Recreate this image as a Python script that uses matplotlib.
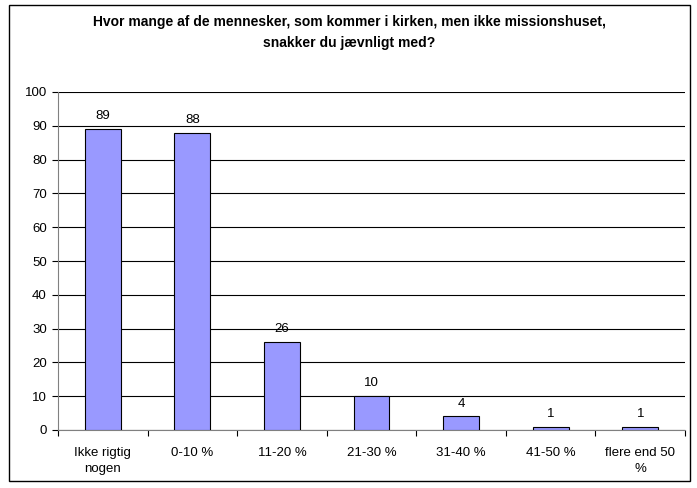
import matplotlib
matplotlib.use("Agg")
import matplotlib.pyplot as plt
from matplotlib.patches import Rectangle

categories = ["Ikke rigtig\nnogen", "0-10 %", "11-20 %", "21-30 %", "31-40 %", "41-50 %", "flere end 50\n%"]
values = [89, 88, 26, 10, 4, 1, 1]
yticks = [0, 10, 20, 30, 40, 50, 60, 70, 80, 90, 100]
title = "Hvor mange af de mennesker, som kommer i kirken, men ikke missionshuset,\nsnakker du jævnligt med?"

plt.rcParams['font.family'] = ['Liberation Sans', 'DejaVu Sans']

W, H = 697, 488
fig = plt.figure(figsize=(W/100, H/100), dpi=100)
fig.patch.set_facecolor('white')

# outer border
fig.patches.append(Rectangle((9/W, 1 - 481/H), (690-9)/W, (481-5)/H, transform=fig.transFigure,
                             fill=False, edgecolor='black', linewidth=1.0))

left, right, top, bottom = 58, 685, 92, 430
ax = fig.add_axes([left/W, 1 - bottom/H, (right-left)/W, (bottom-top)/H])

x = list(range(len(categories)))
ax.bar(x, values, width=0.4, color='#9999ff', edgecolor='black', linewidth=0.8, zorder=3)
for xi, v in zip(x, values):
    ax.text(xi, v + 2, str(v), ha='center', va='bottom', fontsize=9.5)

ax.set_xlim(-0.5, len(categories) - 0.5)
ax.set_ylim(0, 100)
ax.set_yticks(yticks)
ax.set_yticklabels([str(t) for t in yticks], fontsize=9.5)
ax.yaxis.grid(True, color='black', linewidth=0.8, zorder=0)
ax.set_axisbelow(True)

ax.set_xticks(x)
ax.set_xticklabels(categories, fontsize=9.5, linespacing=1.45)
ax.set_xticks([i + 0.5 for i in range(-1, len(categories))], minor=True)
ax.tick_params(axis='x', which='major', length=0, pad=12)
ax.tick_params(axis='x', which='minor', length=4, width=0.8, direction='out')
ax.tick_params(axis='y', length=4, width=0.8, direction='out', pad=4)

for s in ['top', 'right']:
    ax.spines[s].set_visible(False)
ax.spines['left'].set_color('#808080')
ax.spines['bottom'].set_color('#808080')

fig.text((9+690)/2/W, 1 - 32.5/H, title, ha='center', va='center', fontsize=10,
         fontweight='bold', linespacing=1.6)

fig.savefig("out.png", dpi=100)
